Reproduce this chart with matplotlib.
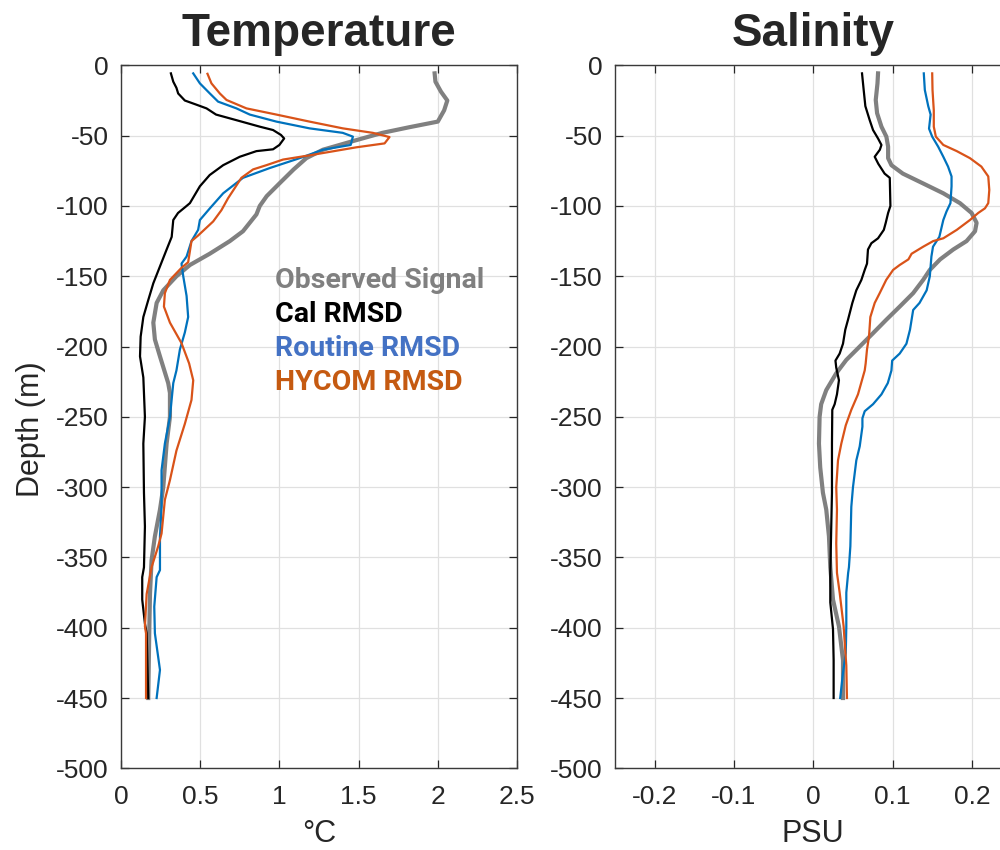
import numpy as np
import matplotlib
matplotlib.use("Agg")
import matplotlib.pyplot as plt

# ---- Temperature RMSD profiles (deg C) ----
t_obs_depth = [-5.7, -11.6, -18.7, -25, -32, -40, -44, -48, -54, -60, -66, -74, -84, -93, -100, -106,
               -118, -125, -134, -142, -150, -160, -169, -183, -195, -207, -226, -233, -250, -269,
               -300, -316, -335, -352, -376, -399, -450]
t_obs = [1.98, 1.985, 2.02, 2.06, 2.04, 2.0, 1.82, 1.65, 1.46, 1.275, 1.17, 1.09, 1.0, 0.92, 0.876, 0.855,
         0.77, 0.687, 0.56, 0.435, 0.35, 0.267, 0.225, 0.204, 0.214, 0.246, 0.298, 0.309, 0.309, 0.288,
         0.267, 0.246, 0.214, 0.193, 0.183, 0.179, 0.172]

t_cal_depth = [-5.7, -11.6, -16, -20, -25, -28, -30.6, -35, -39, -43.6, -46, -49.5, -52, -56.6, -59.7, -61,
               -65, -71, -78, -86, -98, -100, -105, -110, -122, -131, -143, -155, -167, -179, -193, -207,
               -222, -250, -269, -304, -328, -357, -364, -380, -397, -404, -450]
t_cal = [0.315, 0.33, 0.35, 0.361, 0.403, 0.477, 0.54, 0.60, 0.729, 0.876, 0.96, 1.01, 1.03, 1.0, 0.96, 0.855,
         0.75, 0.645, 0.56, 0.498, 0.435, 0.414, 0.36, 0.33, 0.32, 0.288, 0.246, 0.204, 0.172, 0.141, 0.124, 0.12,
         0.141, 0.151, 0.141, 0.145, 0.151, 0.145, 0.134, 0.134, 0.151, 0.162, 0.172]

t_rou_depth = [-5.7, -12.8, -20, -25.8, -30.6, -35, -40, -44.8, -48, -50.7, -56.6, -60, -66, -73, -80, -91,
               -101.7, -110, -117, -125, -136, -141, -150, -164, -179, -190, -202, -217, -226, -250, -269,
               -288, -314, -335, -359, -364, -385, -404, -430, -450]
t_rou = [0.456, 0.498, 0.561, 0.613, 0.729, 0.813, 0.981, 1.19, 1.40, 1.464, 1.45, 1.275, 1.128, 0.94, 0.77, 0.645,
         0.561, 0.498, 0.487, 0.445, 0.414, 0.382, 0.393, 0.414, 0.424, 0.403, 0.372, 0.35, 0.33, 0.309, 0.277,
         0.256, 0.256, 0.246, 0.246, 0.225, 0.21, 0.214, 0.246, 0.225]

t_hyc_depth = [-6, -12.8, -20, -24.6, -30.6, -35, -40, -44.8, -48, -51, -55.5, -58.3, -64, -67, -71, -74, -80,
               -89, -94.5, -103, -111, -121, -125, -140, -144, -152.6, -162, -171.6, -183, -197.6, -212, -224,
               -238, -255, -274, -295, -309, -333, -342, -357, -376, -399, -404, -450]
t_hyc = [0.546, 0.571, 0.624, 0.666, 0.792, 0.981, 1.19, 1.40, 1.59, 1.695, 1.664, 1.485, 1.19, 1.023, 0.918, 0.834, 0.76,
         0.708, 0.676, 0.634, 0.582, 0.487, 0.445, 0.424, 0.382, 0.309, 0.277, 0.271, 0.309, 0.382, 0.43, 0.456,
         0.445, 0.403, 0.35, 0.309, 0.277, 0.256, 0.235, 0.193, 0.162, 0.151, 0.158, 0.158]

# ---- Salinity RMSD profiles (PSU) ----
s_obs_depth = [-5.7, -12.8, -24.6, -34, -43.6, -50.7, -57.8, -66, -71, -77, -84, -91, -98, -105, -112, -118,
               -125, -131, -138, -145.5, -152.6, -162, -171.6, -181, -190.5, -200, -209.5, -219, -231, -241,
               -250, -269, -286, -304, -316, -335, -357, -380, -399, -423, -450]
s_obs = [0.0817, 0.081, 0.0788, 0.0805, 0.086, 0.0922, 0.0944, 0.0944, 0.0986, 0.113, 0.1386, 0.164, 0.185, 0.1997,
         0.206, 0.204, 0.1933, 0.1765, 0.16, 0.147, 0.1386, 0.126, 0.109, 0.092, 0.0754, 0.0586, 0.0417, 0.029,
         0.0164, 0.01, 0.008, 0.0072, 0.0088, 0.0122, 0.0164, 0.0198, 0.0215, 0.0249, 0.0324, 0.0375, 0.0375]

s_cal_depth = [-5.7, -17.5, -29, -39, -46, -52, -56.6, -60, -65, -70, -77, -80, -100, -105, -112, -117, -123,
               -126.5, -131, -141, -145.5, -152.6, -160, -169, -181, -188, -198, -205, -210, -215, -224, -234,
               -241, -245, -269, -304, -328, -361, -382, -401, -423, -450]
s_cal = [0.0615, 0.0636, 0.0657, 0.0712, 0.0754, 0.0817, 0.086, 0.084, 0.0775, 0.082, 0.09, 0.0965, 0.0973, 0.0944,
         0.0914, 0.089, 0.0817, 0.0733, 0.069, 0.0678, 0.0649, 0.0607, 0.0543, 0.0493, 0.0438, 0.0404, 0.0375,
         0.0333, 0.028, 0.029, 0.0324, 0.0299, 0.027, 0.024, 0.0236, 0.0236, 0.0227, 0.0215, 0.0215, 0.0249,
         0.0257, 0.0257]

s_rou_depth = [-5.7, -17.5, -29, -35, -45, -50.7, -57.8, -65, -72, -79, -86, -98, -104, -110, -122, -129, -136,
               -150, -160, -169, -174, -181, -188, -198, -205, -210, -217, -226, -234, -241, -246, -251, -257,
               -271, -281, -300, -314, -342, -357, -361, -375, -399, -418, -432, -450]
s_rou = [0.1394, 0.1407, 0.145, 0.148, 0.146, 0.150, 0.1575, 0.164, 0.170, 0.1744, 0.1744, 0.173, 0.168, 0.164,
         0.159, 0.151, 0.149, 0.147, 0.143, 0.134, 0.126, 0.124, 0.122, 0.1175, 0.109, 0.0995, 0.0986, 0.094,
         0.086, 0.0754, 0.0649, 0.062, 0.062, 0.0586, 0.0543, 0.0501, 0.048, 0.0468, 0.045, 0.044, 0.0417,
         0.0417, 0.041, 0.0375, 0.034]

s_hyc_depth = [-5.7, -17.5, -32, -43.6, -50.7, -56.6, -61, -66, -72, -79, -88.6, -98, -101.7, -105, -110, -117,
               -123, -125, -129, -134, -138, -142, -145.5, -152.6, -162, -169, -179, -193, -202, -212, -217,
               -234, -245, -256, -269, -281, -300, -316, -340, -361, -375, -399, -427, -450]
s_hyc = [0.15, 0.1504, 0.152, 0.152, 0.1546, 0.164, 0.181, 0.1976, 0.212, 0.2207, 0.222, 0.2207, 0.2165, 0.208,
         0.1976, 0.181, 0.164, 0.1512, 0.1386, 0.124, 0.12, 0.109, 0.1007, 0.092, 0.0838, 0.0775, 0.072, 0.0703,
         0.0678, 0.0661, 0.0649, 0.0564, 0.048, 0.041, 0.0354, 0.0312, 0.029, 0.0299, 0.029, 0.0299, 0.0333,
         0.0383, 0.0417, 0.0425]

series_names = ["Observed Signal", "Cal RMSD", "Routine RMSD", "HYCOM RMSD"]
line_colors = ["#808080", "#000000", "#0072BD", "#D95319"]
text_colors = ["#808080", "#000000", "#4472C4", "#C55A11"]
line_widths = [3.0, 1.6, 1.6, 1.6]

plt.rcParams['font.family'] = ['Liberation Sans', 'DejaVu Sans']
plt.rcParams['axes.unicode_minus'] = False
tick_col = "#262626"

fig = plt.figure(figsize=(10, 8.5), dpi=100)
ax1 = fig.add_axes([0.121, 0.0961, 0.396, 0.827])
ax2 = fig.add_axes([0.615, 0.0961, 0.3965, 0.827])

temp_series = [(t_obs, t_obs_depth), (t_cal, t_cal_depth), (t_rou, t_rou_depth), (t_hyc, t_hyc_depth)]
sal_series = [(s_obs, s_obs_depth), (s_cal, s_cal_depth), (s_rou, s_rou_depth), (s_hyc, s_hyc_depth)]

for ax, series in [(ax1, temp_series), (ax2, sal_series)]:
    for i in range(4):
        x, d = series[i]
        ax.plot(x, d, color=line_colors[i], lw=line_widths[i], zorder=3, solid_joinstyle='round')
    ax.set_ylim(-500, 0)
    ax.set_yticks(np.arange(-500, 1, 50))
    ax.grid(True, color="#e0e0e0", lw=0.9)
    ax.set_axisbelow(True)
    ax.tick_params(direction='in', length=6, width=0.9, colors=tick_col, labelsize=19,
                   top=True, right=True, pad=9)
    ax.tick_params(axis='x', pad=12)
    for sp in ax.spines.values():
        sp.set_color("#3a3a3a")
        sp.set_linewidth(1.0)

ax1.set_xlim(0, 2.5)
ax1.set_xticks([0, 0.5, 1, 1.5, 2, 2.5])
ax1.set_xticklabels(["0", "0.5", "1", "1.5", "2", "2.5"])
ax2.set_xlim(-0.25, 0.25)
ax2.set_xticks([-0.2, -0.1, 0, 0.1, 0.2])
ax2.set_xticklabels(["-0.2", "-0.1", "0", "0.1", "0.2"])

ax1.set_title("Temperature", fontsize=33, fontweight='bold', color=tick_col, pad=14)
ax2.set_title("Salinity", fontsize=33, fontweight='bold', color=tick_col, pad=14)
ax1.set_xlabel("°C", fontsize=22, color=tick_col, labelpad=7)
ax2.set_xlabel("PSU", fontsize=22, color=tick_col, labelpad=7)
ax1.set_ylabel("Depth (m)", fontsize=22, color=tick_col)
ax1.yaxis.set_label_coords(-0.19, 0.483)

# legend as coloured text lines (pixel positions from top-left)
for i, name in enumerate(series_names):
    ax1.text(275, 850 - (280 + i * 34.3), name, transform=None, fontsize=20.5, fontweight='bold',
             family=['Roboto', 'DejaVu Sans'], color=text_colors[i], va='center', ha='left')

fig.savefig("out.png", dpi=100)
